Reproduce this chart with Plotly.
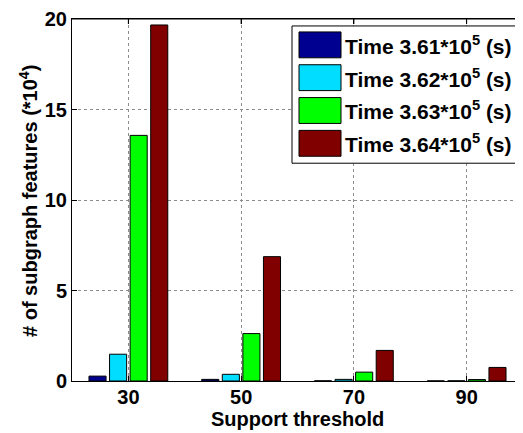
import plotly.graph_objects as go

thresholds = [30, 50, 70, 90]
series_names = ["Time 3.61*10<sup>5</sup> (s)", "Time 3.62*10<sup>5</sup> (s)",
                "Time 3.63*10<sup>5</sup> (s)", "Time 3.64*10<sup>5</sup> (s)"]
t361 = [0.27, 0.09, 0.01, 0.005]
t362 = [1.48, 0.37, 0.09, 0.01]
t363 = [13.57, 2.62, 0.49, 0.08]
t364 = [19.67, 6.87, 1.69, 0.75]
series_values = [t361, t362, t363, t364]
colors = ["#000090", "#00DDFF", "#00FF00", "#800000"]
y_ticks = [0, 5, 10, 15, 20]

# the page puts the figure 8px from the top-left corner of the window
OFF = 8
W, H = 523 - OFF, 433 - OFF
L, R, T, B = 72 - OFF, 0, 17 - OFF, 52
pw, ph = W - L - R, H - T - B

def px(x):
    return (x - OFF - L) / pw

def py(y):
    return 1 - (y - OFF - T) / ph

font = "Liberation Sans, Arial, sans-serif"

fig = go.Figure()
for name, vals, c in zip(series_names, series_values, colors):
    fig.add_trace(go.Bar(x=thresholds, y=vals, name=name, marker_color=c,
                         marker_line=dict(color="black", width=1), showlegend=False))

shapes = []
annotations = []
# top frame line and its inward ticks
shapes.append(dict(type="line", xref="paper", yref="paper", x0=0, x1=1, y0=1, y1=1,
                   line=dict(color="black", width=1), layer="above"))
for t in thresholds:
    shapes.append(dict(type="line", xref="x", yref="paper", x0=t, x1=t, y0=1, y1=1 - 5 / ph,
                       line=dict(color="black", width=1), layer="above"))
# legend box
shapes.append(dict(type="rect", xref="paper", yref="paper", x0=px(292), x1=px(517),
                   y0=py(162), y1=py(24), line=dict(color="black", width=1),
                   fillcolor="white", layer="above"))
for i, (name, c) in enumerate(zip(series_names, colors)):
    y0 = 30 + 33 * i
    shapes.append(dict(type="rect", xref="paper", yref="paper", x0=px(299), x1=px(341),
                       y0=py(y0 + 26), y1=py(y0), line=dict(color="black", width=1),
                       fillcolor=c, layer="above"))
    annotations.append(dict(xref="paper", yref="paper", x=px(343), y=py(y0 + 13),
                            text="<b>" + name + "</b>", showarrow=False,
                            xanchor="left", yanchor="middle",
                            font=dict(family=font, size=21, color="black")))

# axis titles
annotations.append(dict(xref="paper", yref="paper", x=px(297), y=py(419),
                        text="<b>Support threshold</b>", showarrow=False,
                        xanchor="center", yanchor="middle",
                        font=dict(family=font, size=20, color="black")))
annotations.append(dict(xref="paper", yref="paper", x=px(29), y=py(200),
                        text="<b># of subgraph features (*10<sup>4</sup>)</b>", showarrow=False,
                        textangle=-90, xanchor="center", yanchor="middle",
                        font=dict(family=font, size=20, color="black")))

fig.update_layout(
    width=W, height=H,
    margin=dict(l=L, r=R, t=T, b=B),
    plot_bgcolor="white", paper_bgcolor="white",
    barmode="group", bargap=0.27, bargroupgap=0.17,
    font=dict(family=font, color="black"),
    shapes=shapes, annotations=annotations,
    xaxis=dict(range=[20, 100], tickvals=thresholds,
               ticktext=[str(t) for t in thresholds],
               tickfont=dict(size=20, family=font, weight="bold"),
               showline=True, linecolor="black", linewidth=1, mirror="ticks",
               ticks="inside", ticklen=5, tickcolor="black",
               ticklabelstandoff=-2,
               showgrid=True, gridcolor="#8c8c8c", griddash="dot", gridwidth=1,
               zeroline=False),
    yaxis=dict(range=[0, 20], tickvals=y_ticks,
               tickfont=dict(size=20, family=font, weight="bold"),
               showline=True, linecolor="black", linewidth=1,
               ticks="inside", ticklen=5, tickcolor="black",
               ticklabeloverflow="allow",
               showgrid=True, gridcolor="#8c8c8c", griddash="dot", gridwidth=1,
               zeroline=False),
)

fig.write_html("out.html")
